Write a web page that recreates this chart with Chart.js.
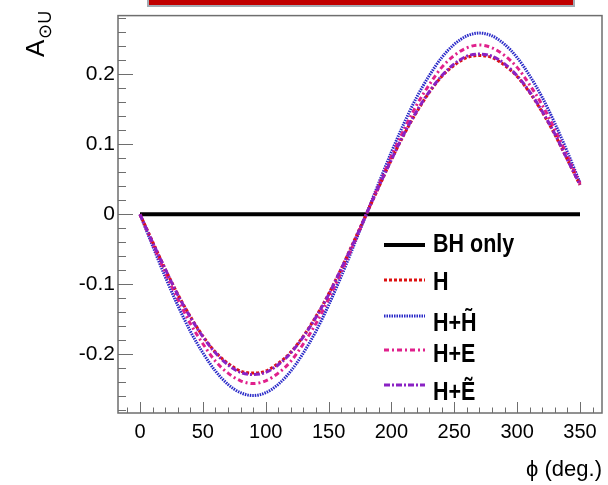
<!DOCTYPE html>
<html>
<head>
<meta charset="utf-8">
<script src="https://cdn.jsdelivr.net/npm/chart.js@4.4.1/dist/chart.umd.min.js"></script>
<style>
  html, body { margin: 0; padding: 0; background: #fff; }
  canvas { display: block; }
</style>
</head>
<body>
<canvas id="chart" width="608" height="485"></canvas>
<script>
// phi in degrees, asymmetry values
const phi = [0, 10, 20, 30, 40, 50, 60, 70, 80, 90, 100, 110, 120, 130, 140, 150, 160, 170,
             180, 190, 200, 210, 220, 230, 240, 250, 260, 270, 280, 290, 300, 310, 320, 330, 340, 350];
const bhOnly = [0, 0, 0, 0, 0, 0, 0, 0, 0, 0, 0, 0, 0, 0, 0, 0, 0, 0,
                0, 0, 0, 0, 0, 0, 0, 0, 0, 0, 0, 0, 0, 0, 0, 0, 0, 0];
const hOnly = [0, -0.039, -0.078, -0.114, -0.146, -0.174, -0.197, -0.213, -0.224, -0.227, -0.224, -0.213, -0.197, -0.174, -0.146, -0.114, -0.078, -0.039,
               0, 0.039, 0.078, 0.114, 0.146, 0.174, 0.197, 0.213, 0.224, 0.227, 0.224, 0.213, 0.197, 0.174, 0.146, 0.114, 0.078, 0.042];
const hHtilde = [0, -0.045, -0.089, -0.130, -0.167, -0.198, -0.224, -0.243, -0.255, -0.259, -0.255, -0.243, -0.224, -0.198, -0.167, -0.130, -0.089, -0.045,
                 0, 0.045, 0.089, 0.130, 0.167, 0.198, 0.224, 0.243, 0.255, 0.259, 0.255, 0.243, 0.224, 0.198, 0.167, 0.130, 0.089, 0.045];
const hE = [0, -0.042, -0.083, -0.121, -0.156, -0.185, -0.210, -0.227, -0.238, -0.242, -0.238, -0.227, -0.210, -0.185, -0.156, -0.121, -0.083, -0.042,
            0, 0.042, 0.083, 0.121, 0.156, 0.185, 0.210, 0.227, 0.238, 0.242, 0.238, 0.227, 0.210, 0.185, 0.156, 0.121, 0.083, 0.044];
const hEtilde = [0, -0.040, -0.078, -0.115, -0.147, -0.175, -0.198, -0.215, -0.226, -0.229, -0.226, -0.215, -0.198, -0.175, -0.147, -0.115, -0.078, -0.040,
                 0, 0.040, 0.078, 0.115, 0.147, 0.175, 0.198, 0.215, 0.226, 0.229, 0.226, 0.215, 0.198, 0.175, 0.147, 0.115, 0.078, 0.042];
const seriesLabels = ['BH only', 'H', 'H+H\u0303', 'H+E', 'H+\u1EBC'];

const xTicks = [0, 50, 100, 150, 200, 250, 300, 350];
const xTickLabels = ['0', '50', '100', '150', '200', '250', '300', '350'];
const yTicks = [-0.2, -0.1, 0, 0.1, 0.2];
const yTickLabels = ['-0.2', '-0.1', '0', '0.1', '0.2'];

const SANS = "'Liberation Sans', Arial, sans-serif";

function pts(arr) {
    return phi.map((p, i) => ({ x: p, y: arr[i] }));
}

// frame, inward ticks, legend, y title, top box
const rootLook = {
    id: 'rootLook',
    beforeDatasetsDraw(chart) {
        const { ctx, chartArea: a, scales: { x, y } } = chart;
        ctx.save();
        ctx.strokeStyle = '#6e6e6e';
        ctx.lineWidth = 1.5;
        ctx.strokeRect(a.left, a.top, a.right - a.left, a.bottom - a.top);
        ctx.lineWidth = 1;
        // x ticks
        for (let v = -10; v <= 360; v += 10) {
            const px = Math.round(x.getPixelForValue(v)) + 0.5;
            const len = v % 50 === 0 ? 11 : 5.5;
            ctx.beginPath(); ctx.moveTo(px, a.bottom); ctx.lineTo(px, a.bottom - len); ctx.stroke();
        }
        // y ticks
        for (let k = -14; k <= 14; k++) {
            const py = Math.round(y.getPixelForValue(k * 0.02)) + 0.5;
            const len = k % 5 === 0 ? 15 : 8;
            ctx.beginPath(); ctx.moveTo(a.left, py); ctx.lineTo(a.left + len, py); ctx.stroke();
        }
        ctx.restore();
    },
    afterDatasetsDraw(chart) {
        const ctx = chart.ctx;
        const ds = chart.data.datasets;
        ctx.save();
        // legend
        const rowY = [245, 280, 316, 350, 385];
        const baseY = [252, 290, 331, 362, 400];
        ds.forEach((d, i) => {
            ctx.strokeStyle = d.borderColor;
            ctx.lineWidth = d.borderWidth;
            ctx.setLineDash(d.borderDash || []);
            ctx.beginPath(); ctx.moveTo(384, rowY[i]); ctx.lineTo(425, rowY[i]); ctx.stroke();
            ctx.setLineDash([]);
            ctx.save();
            ctx.translate(433, baseY[i]);
            ctx.scale(0.86, 1);
            ctx.fillStyle = '#000';
            ctx.font = "bold 25px " + SANS;
            ctx.textBaseline = 'alphabetic';
            ctx.fillText(d.label, 0, 0);
            ctx.restore();
        });
        // y axis title A_{⊙U}
        ctx.fillStyle = '#000';
        ctx.translate(44, 57);
        ctx.rotate(-Math.PI / 2);
        ctx.font = "26px " + SANS;
        ctx.fillText('A', 0, 0);
        const w = ctx.measureText('A').width;
        ctx.font = "18px " + SANS;
        ctx.fillText('\u2299U', w + 1, 7);
        ctx.restore();
        // red box at the top
        ctx.save();
        ctx.fillStyle = '#c00000';
        ctx.fillRect(148, -2, 426, 8);
        ctx.strokeStyle = '#a3abb3';
        ctx.lineWidth = 2;
        ctx.strokeRect(148, -2, 426, 8);
        ctx.restore();
    }
};

new Chart(document.getElementById('chart'), {
    type: 'line',
    data: {
        datasets: [
            { label: seriesLabels[0], data: pts(bhOnly), borderColor: '#000000', borderWidth: 4, order: 5 },
            { label: seriesLabels[1], data: pts(hOnly), borderColor: '#dd1111', borderWidth: 3, borderDash: [3, 2], order: 2 },
            { label: seriesLabels[2], data: pts(hHtilde), borderColor: '#2a2ac8', borderWidth: 3, borderDash: [1.5, 1], order: 4 },
            { label: seriesLabels[3], data: pts(hE), borderColor: '#e0208c', borderWidth: 3, borderDash: [5, 3, 2, 3], order: 3 },
            { label: seriesLabels[4], data: pts(hEtilde), borderColor: '#8a22c4', borderWidth: 3, borderDash: [6, 2, 2, 2], order: 1 }
        ]
    },
    options: {
        responsive: false,
        animation: false,
        devicePixelRatio: 1,
        layout: { padding: { left: 0, right: 6, top: 15, bottom: 0 } },
        elements: {
            point: { radius: 0 },
            line: { cubicInterpolationMode: 'monotone', fill: false }
        },
        plugins: { legend: { display: false }, tooltip: { enabled: false } },
        scales: {
            x: {
                type: 'linear', min: -17.5, max: 367.5,
                afterBuildTicks: s => { s.ticks = xTicks.map(v => ({ value: v })); },
                afterFit: s => { s.height = 72; },
                grid: { display: false, drawTicks: false },
                border: { display: false },
                ticks: {
                    callback: (v, i) => xTickLabels[i],
                    color: '#000', font: { family: SANS, size: 20 },
                    padding: 7, maxRotation: 0, autoSkip: false
                },
                title: {
                    display: true, text: '\u03D5 (deg.)', align: 'end', color: '#000',
                    font: { family: SANS, size: 22 }, padding: { top: 0, bottom: 2 }
                }
            },
            y: {
                type: 'linear', min: -0.284, max: 0.284,
                afterBuildTicks: s => { s.ticks = yTicks.map(v => ({ value: v })); },
                afterFit: s => { s.width = 118; },
                grid: { display: false, drawTicks: false },
                border: { display: false },
                ticks: {
                    callback: (v, i) => yTickLabels[i],
                    color: '#000', font: { family: SANS, size: 21 },
                    padding: 3, autoSkip: false
                }
            }
        }
    },
    plugins: [rootLook]
});
</script>
</body>
</html>
